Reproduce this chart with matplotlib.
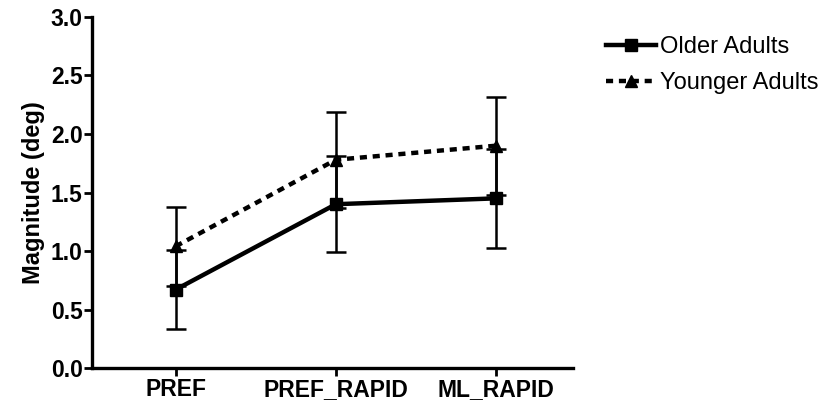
import numpy as np
from matplotlib import pyplot as plt

plt.rcParams['font.family'] = ['Liberation Sans', 'DejaVu Sans']

conditions = ["PREF", "PREF_RAPID", "ML_RAPID"]
older = [0.67, 1.40, 1.45]
older_err = [0.34, 0.41, 0.42]
younger = [1.04, 1.78, 1.90]
younger_err = [0.34, 0.41, 0.42]
yticks = [0.0, 0.5, 1.0, 1.5, 2.0, 2.5, 3.0]

fig = plt.figure(figsize=(8.39, 4.04), dpi=100)
ax = fig.add_axes([0.110, 0.089, 0.573, 0.869])

x = np.arange(len(conditions))

eb_o = ax.errorbar(x, older, yerr=older_err, color='black', lw=3.2,
                   marker='s', ms=9, elinewidth=1.8, capsize=7, capthick=1.8)
eb_y = ax.errorbar(x, younger, yerr=younger_err, color='black', lw=3.2,
                   ls=(0, (1.6, 1.3)), marker='^', ms=9, elinewidth=1.8,
                   capsize=7, capthick=1.8)

ax.set_xlim(-0.52, 2.48)
ax.set_ylim(0, 3.0)
ax.set_yticks(yticks)
ax.set_yticklabels(["%.1f" % v for v in yticks], fontsize=16.5, fontweight='bold')
ax.set_xticks(x)
ax.set_xticklabels(conditions, fontsize=16.5, fontweight='bold')
ax.set_ylabel("Magnitude (deg)", fontsize=17, fontweight='bold', labelpad=4)

for s in ["top", "right"]:
    ax.spines[s].set_visible(False)
for s in ["left", "bottom"]:
    ax.spines[s].set_linewidth(2.4)
ax.tick_params(width=2, length=6, pad=1)

fig.legend([eb_o[0], eb_y[0]], ["Older Adults", "Younger Adults"],
           loc='upper left', bbox_to_anchor=(0.697, 0.963),
           frameon=False, fontsize=17, handlelength=2.1, handletextpad=0.2,
           labelspacing=0.6)

fig.savefig("out.png", dpi=100)
